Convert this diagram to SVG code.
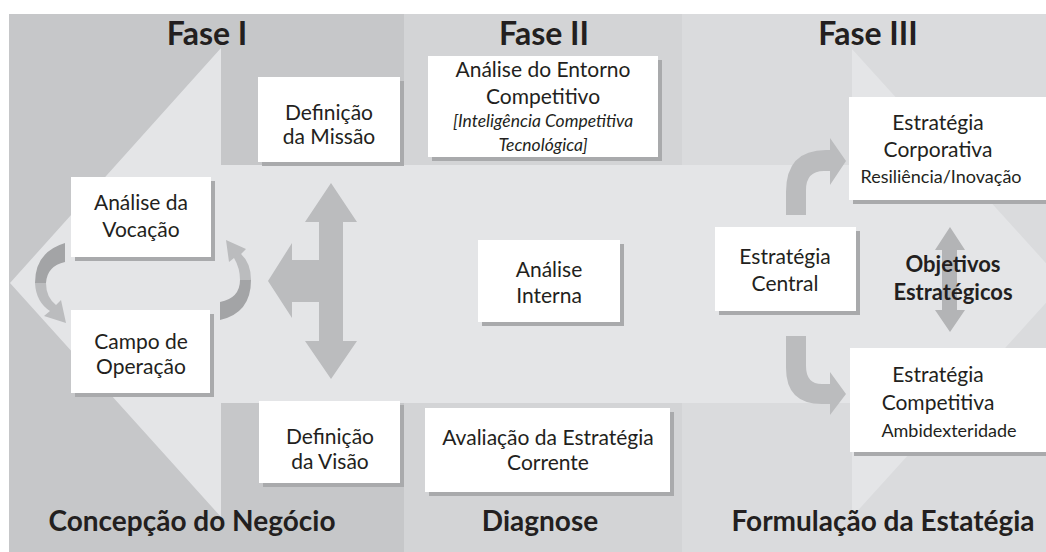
<svg xmlns="http://www.w3.org/2000/svg" width="1046" height="552" viewBox="0 0 1046 552">
<style>
.t{font-family:Lato,"Open Sans",sans-serif;font-size:21px;fill:#231f20;text-anchor:middle}
.s{font-size:18px}
.i{font-style:italic;font-size:17.5px}
.h{font-family:Lato,"Open Sans",sans-serif;font-weight:bold;font-size:28px;fill:#231f20;text-anchor:middle}
.f{font-size:32px}
.b{font-weight:bold;font-size:22px}
.box{fill:#ffffff}
.sh{fill:#a9aaac}
.arr{fill:#bbbcbe}
.dk{fill:#a3a4a6}
</style>
<rect x="0" y="0" width="1046" height="552" fill="#ffffff"/>
<g id="background">
<rect x="9" y="14" width="395" height="538" fill="#c6c7c9"/>
<rect x="404" y="14" width="278" height="538" fill="#d3d4d6"/>
<rect x="682" y="14" width="364" height="538" fill="#dadbdd"/>
<path d="M221 48 L10 283 L221 517 L221 403 L852 403 L852 517 L1064 283 L852 49 L852 165 L221 165 Z" fill="#e4e5e7"/>
</g>
<g id="connectors">
<path class="arr" d="M331 183 L357 222 L343 222 L343 341 L357 341 L331 379 L305 341 L319 341 L319 302 L292 302 L292 318 L268 281 L292 243 L292 260 L319 260 L319 222 L305 222 Z"/>
<path class="dk" d="M65 243 Q35 252 35 283 L46 283 Q47 266 65 262 Z"/>
<path class="arr" d="M35 283 Q36 302 50 311 L44 316 L66 323 L61 300 L56 305 Q46 297 46 283 Z"/>
<path class="dk" d="M220 320 Q251 313 251 280 L240 280 Q240 298 220 302 Z"/>
<path class="arr" d="M251 280 Q251 263 241 254 L246 249 L226 240 L229 262 L234 258 Q240 268 240 280 Z"/>
<path class="arr" d="M786 215 L786 192 Q786 150 826 150 L830 150 L830 138 L846 161 L830 185 L830 171 L824 171 Q806 171 806 190 L806 215 Z"/>
<path class="arr" d="M786 336 L786 368 Q786 404 822 404 L830 404 L830 415 L846 394 L830 372 L830 384 L822 384 Q806 384 806 366 L806 336 Z"/>
<path d="M950 227 L965 250 L957 250 L957 310 L965 310 L950 332 L935 310 L942 310 L942 250 L935 250 Z" fill="#b3b4b6"/>
</g>
<g id="titles">
<text class="h f" x="207" y="45">Fase I</text>
<text class="h f" x="544" y="45">Fase II</text>
<text class="h f" x="868" y="45">Fase III</text>
<text class="h" x="192" y="531">Concepção do Negócio</text>
<text class="h" x="540" y="531">Diagnose</text>
<text class="h" x="883" y="531">Formulação da Estatégia</text>
</g>
<g id="n-missao">
<rect class="sh" x="262" y="81" width="142" height="85"/>
<rect class="box" x="258" y="77" width="142" height="85"/>
<text class="t" x="329" y="120">Definição</text>
<text class="t" x="329" y="144">da Missão</text>
</g>
<g id="n-vocacao">
<rect class="sh" x="75" y="181" width="140" height="80"/>
<rect class="box" x="71" y="177" width="140" height="80"/>
<text class="t" x="141" y="210">Análise da</text>
<text class="t" x="141" y="237">Vocação</text>
</g>
<g id="n-operacao">
<rect class="sh" x="75" y="314" width="139" height="83"/>
<rect class="box" x="71" y="310" width="139" height="83"/>
<text class="t" x="141" y="349">Campo de</text>
<text class="t" x="141" y="374">Operação</text>
</g>
<g id="n-visao">
<rect class="sh" x="263" y="405" width="141" height="82"/>
<rect class="box" x="259" y="401" width="141" height="82"/>
<text class="t" x="330" y="444">Definição</text>
<text class="t" x="330" y="469">da Visão</text>
</g>
<g id="n-entorno">
<rect class="sh" x="432" y="60" width="230" height="101"/>
<rect class="box" x="428" y="56" width="230" height="101"/>
<text class="t" x="543" y="77">Análise do Entorno</text>
<text class="t" x="543" y="104">Competitivo</text>
<text class="t i" x="543" y="127">[Inteligência Competitiva</text>
<text class="t i" x="543" y="151">Tecnológica]</text>
</g>
<g id="n-interna">
<rect class="sh" x="482" y="244" width="142" height="82"/>
<rect class="box" x="478" y="240" width="142" height="82"/>
<text class="t" x="549" y="277">Análise</text>
<text class="t" x="549" y="303">Interna</text>
</g>
<g id="n-avaliacao">
<rect class="sh" x="429" y="412" width="245" height="84"/>
<rect class="box" x="425" y="408" width="245" height="84"/>
<text class="t" x="548" y="445">Avaliação da Estratégia</text>
<text class="t" x="548" y="470">Corrente</text>
</g>
<g id="n-central">
<rect class="sh" x="719" y="231" width="141" height="84"/>
<rect class="box" x="715" y="227" width="141" height="84"/>
<text class="t" x="785" y="264">Estratégia</text>
<text class="t" x="785" y="291">Central</text>
</g>
<g id="n-corporativa">
<rect class="sh" x="853" y="101" width="200" height="103"/>
<rect class="box" x="849" y="97" width="200" height="103"/>
<text class="t" x="938" y="130">Estratégia</text>
<text class="t" x="938" y="157">Corporativa</text>
<text class="t s" x="941" y="183">Resiliência/Inovação</text>
</g>
<g id="n-competitiva">
<rect class="sh" x="854" y="352" width="200" height="104"/>
<rect class="box" x="850" y="348" width="200" height="104"/>
<text class="t" x="938" y="382">Estratégia</text>
<text class="t" x="938" y="410">Competitiva</text>
<text class="t s" x="949" y="437">Ambidexteridade</text>
</g>
<g id="n-objetivos">
<text class="t b" x="953" y="272">Objetivos</text>
<text class="t b" x="953" y="300">Estratégicos</text>
</g>
</svg>
